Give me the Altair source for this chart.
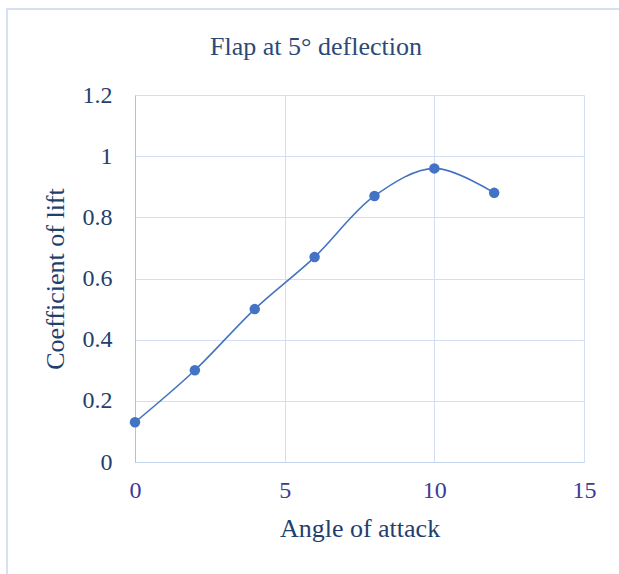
import altair as alt
import pandas as pd

# Lift coefficient measured with the flap deflected 5 degrees
angle = [0, 2, 4, 6, 8, 10, 12]
cl = [0.13, 0.30, 0.50, 0.67, 0.87, 0.96, 0.88]
chart_title = "Flap at 5° deflection"

df = pd.DataFrame({"angle": angle, "cl": cl})

serif = "Liberation Serif"
grid_col = "#d3def2"
line_col = "#4472c4"

x = alt.X(
    "angle:Q",
    title="Angle of attack",
    scale=alt.Scale(domain=[0, 15], nice=False),
    axis=alt.Axis(
        values=[0, 5, 10, 15], format="d", ticks=False, labelFlush=False,
        labelFont=serif, labelFontSize=24, labelColor="#3b3b96", labelPadding=16,
        titleFont=serif, titleFontSize=26, titleColor="#1f3f6e", titleFontWeight="normal",
        titlePadding=13, domainColor="#c5d5ee", gridColor=grid_col,
    ),
)
y = alt.Y(
    "cl:Q",
    title="Coefficient of lift",
    scale=alt.Scale(domain=[0, 1.2], nice=False),
    axis=alt.Axis(
        values=[0, 0.2, 0.4, 0.6, 0.8, 1.0, 1.2], format="~g", ticks=False,
        labelFont=serif, labelFontSize=24, labelColor="#1f3f6e", labelPadding=23,
        titleFont=serif, titleFontSize=26, titleColor="#1f3f6e", titleFontWeight="normal",
        titlePadding=14, domainColor="#a9c2ea", gridColor=grid_col,
    ),
)

# light outer frame of the chart
frame = alt.Chart(df).mark_rect(
    fill=None, stroke="#d6e1f3", strokeWidth=2, clip=False
).encode(
    x=alt.value(-128), x2=alt.value(500), y=alt.value(-86), y2=alt.value(500)
)

heading = alt.Chart(pd.DataFrame({"t": [chart_title]})).mark_text(
    font=serif, fontSize=26, color="#2c4a78", align="center", baseline="alphabetic"
).encode(x=alt.value(181), y=alt.value(-40), text="t:N")

line = alt.Chart(df).mark_line(
    color=line_col, strokeWidth=1.6, interpolate="catmull-rom"
).encode(x=x, y=y)

points = alt.Chart(df).mark_point(
    filled=True, size=110, color=line_col, opacity=1
).encode(x="angle:Q", y="cl:Q")

chart = alt.layer(frame, heading, line, points).properties(
    width=449,
    height=367,
    padding={"left": 135, "top": 95, "right": 35, "bottom": 112},
    autosize=alt.AutoSizeParams(type="none"),
    background="white",
).configure_view(stroke=None)

chart.save("out.html", embed_options={"renderer": "svg", "actions": False})
